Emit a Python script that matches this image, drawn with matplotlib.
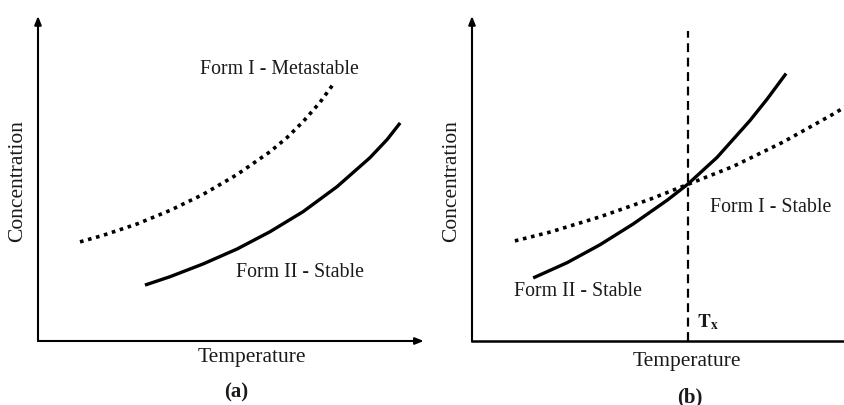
import matplotlib.pyplot as plt

plt.rcParams['font.family'] = ['Liberation Serif', 'DejaVu Serif']
plt.rcParams['mathtext.fontset'] = 'stix'

W, H = 845, 406

# panel (a): metastable form I above stable form II
a_meta_x = [1.10, 1.70, 2.59, 3.46, 4.32, 5.21, 6.07, 6.52, 6.94, 7.38, 7.77]
a_meta_y = [3.05, 3.25, 3.60, 4.02, 4.51, 5.12, 5.82, 6.26, 6.75, 7.34, 7.97]
a_stab_x = [2.80, 3.46, 4.32, 5.21, 6.07, 6.94, 7.83, 8.69, 9.14, 9.48]
a_stab_y = [1.72, 1.98, 2.37, 2.83, 3.36, 3.98, 4.75, 5.64, 6.20, 6.71]

# panel (b): curves cross at the transition temperature Tx
b_form2_x = [1.64, 2.55, 3.43, 4.32, 5.23, 5.79, 6.57, 7.45, 7.91, 8.42]
b_form2_y = [1.94, 2.41, 2.96, 3.60, 4.33, 4.83, 5.65, 6.78, 7.44, 8.23]
b_form1_x = [1.15, 2.09, 3.43, 4.77, 5.79, 7.00, 8.34, 9.68, 10.0]
b_form1_y = [3.08, 3.35, 3.82, 4.36, 4.82, 5.37, 6.12, 6.98, 7.20]
tx = 5.79
tx_top = 9.54


def px(x, y):
    return x / W, 1 - y / H


fig = plt.figure(figsize=(W / 100, H / 100), dpi=100)
ax1 = fig.add_axes([38 / W, 64 / H, 382 / W, 325 / H])
ax2 = fig.add_axes([472 / W, 64 / H, 373 / W, 325 / H])

dots = (0, (1, 1.3))
arrow = dict(arrowstyle='-|>,head_length=0.5,head_width=0.2',
             color='black', lw=1.5, shrinkA=0, shrinkB=0)
for ax in (ax1, ax2):
    ax.set_xlim(0, 10)
    ax.set_ylim(0, 10)
    ax.set_xticks([])
    ax.set_yticks([])
    for s in ax.spines.values():
        s.set_visible(False)
    ax.annotate('', xy=(0, 1.0), xytext=(0, 0), xycoords='axes fraction', arrowprops=arrow)

ax1.annotate('', xy=(1.01, 0), xytext=(0, 0), xycoords='axes fraction', arrowprops=arrow)
ax2.plot([0, 10], [0, 0], color='black', lw=1.8, clip_on=False)

ax1.plot(a_meta_x, a_meta_y, color='black', lw=2.6, linestyle=dots)
ax1.plot(a_stab_x, a_stab_y, color='black', lw=2.4, solid_capstyle='butt', solid_joinstyle='round')
ax1.text(6.31, 8.40, 'Form I - Metastable', fontsize=14.3, ha='center', va='center', color='#1a1a1a')
ax1.text(6.86, 2.15, 'Form II - Stable', fontsize=14.3, ha='center', va='center', color='#1a1a1a')

ax2.plot(b_form1_x, b_form1_y, color='black', lw=2.6, linestyle=dots, clip_on=False)
ax2.plot(b_form2_x, b_form2_y, color='black', lw=2.4, solid_capstyle='butt', solid_joinstyle='round')
ax2.plot([tx, tx], [0, tx_top], color='black', lw=1.6, linestyle=(0, (4, 2.5)))
ax2.text(8.02, 4.15, 'Form I - Stable', fontsize=14.3, ha='center', va='center', color='#1a1a1a')
ax2.text(2.85, 1.54, 'Form II - Stable', fontsize=14.3, ha='center', va='center', color='#1a1a1a')
ax2.text(6.03, 0.62, r'$\mathbf{T_x}$', fontsize=14, ha='left', va='center', color='#1a1a1a')

for (x, y) in [(18, 181), (452, 181)]:
    fig.text(*px(x, y), 'Concentration', fontsize=15.5, rotation=90,
             ha='center', va='center', color='#1a1a1a')
fig.text(*px(252, 358), 'Temperature', fontsize=15.5, ha='center', va='center', color='#1a1a1a')
fig.text(*px(687, 362), 'Temperature', fontsize=15.5, ha='center', va='center', color='#1a1a1a')
fig.text(*px(236, 392), '(a)', fontsize=15, fontweight='bold', ha='center', va='center', color='#1a1a1a')
fig.text(*px(690, 397), '(b)', fontsize=15, fontweight='bold', ha='center', va='center', color='#1a1a1a')

plt.savefig('out.png', dpi=100)
